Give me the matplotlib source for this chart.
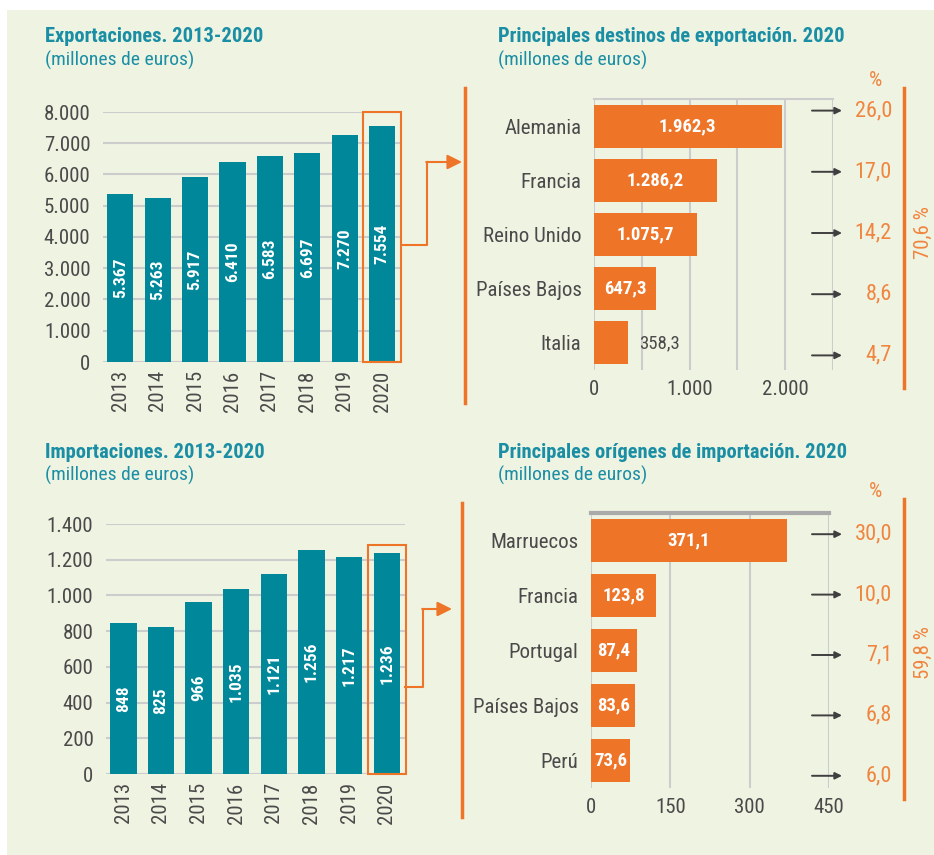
import matplotlib
matplotlib.use("Agg")
import matplotlib.pyplot as plt
from matplotlib import font_manager
from matplotlib.patches import Rectangle

# data
years = ["2013", "2014", "2015", "2016", "2017", "2018", "2019", "2020"]
exports = [5367, 5263, 5917, 6410, 6583, 6697, 7270, 7554]
imports = [848, 825, 966, 1035, 1121, 1256, 1217, 1236]

export_countries = ["Alemania", "Francia", "Reino Unido", "Países Bajos", "Italia"]
export_values = [1962.3, 1286.2, 1075.7, 647.3, 358.3]
export_shares = [26.0, 17.0, 14.2, 8.6, 4.7]
export_total = 70.6

import_countries = ["Marruecos", "Francia", "Portugal", "Países Bajos", "Perú"]
import_values = [371.1, 123.8, 87.4, 83.6, 73.6]
import_shares = [30.0, 10.0, 7.1, 6.8, 6.0]
import_total = 59.8

# colours
PANEL = "#eff3e2"
TEAL = "#00889a"
TITLE = "#1a8ea4"
ORANGE = "#ee7428"
ORANGE_TXT = "#f0853f"
GRID = "#cccccc"
DARK = "#4a4a4a"

# pick a narrow font if one is there
names = set(f.name for f in font_manager.fontManager.ttflist)
narrow = "DejaVu Sans"
for n in ["Liberation Sans Narrow", "Roboto Condensed", "Open Sans Condensed"]:
    if n in names:
        narrow = n
        break
plt.rcParams["font.family"] = [narrow, "DejaVu Sans"]

W, H = 934, 855


def box(l, t, r, b):
    return [l / W, 1 - b / H, (r - l) / W, (b - t) / H]


def es(v, dec=0):
    s = f"{v:,.{dec}f}"
    return s.replace(",", "X").replace(".", ",").replace("X", ".")


fig = plt.figure(figsize=(W / 100, H / 100), dpi=100)

# overlay axes in pixel units for panel, titles and connectors
ov = fig.add_axes([0, 0, 1, 1], zorder=-1)
ov.set_xlim(0, W)
ov.set_ylim(H, 0)
ov.axis("off")
ov.add_patch(Rectangle((7, 10), W - 7, H - 10, color=PANEL, lw=0))


def titles(x, y, text):
    ov.text(x, y, text, color=TITLE, fontsize=14.8, fontweight="bold", va="center")
    ov.text(x, y + 23, "(millones de euros)", color=TITLE, fontsize=14, va="center")


titles(45, 37, "Exportaciones. 2013-2020")
titles(498, 37, "Principales destinos de exportación. 2020")
titles(45, 452, "Importaciones. 2013-2020")
titles(498, 452, "Principales orígenes de importación. 2020")


def year_chart(rect, values, ymax, step, box_top):
    ax = fig.add_axes(rect)
    ax.set_facecolor("none")
    x = range(len(values))
    ax.bar(x, values, width=0.7, color=TEAL, zorder=2)
    for i, v in enumerate(values):
        ax.text(i, v / 2, es(v), rotation=90, ha="center", va="center",
                color="white", fontweight="bold", fontsize=12.5, zorder=3)
    ax.set_xlim(-0.46, len(values) - 0.52)
    ax.set_ylim(0, ymax)
    ticks = list(range(0, ymax + 1, step))
    ax.set_yticks(ticks)
    ax.set_yticklabels([es(t) for t in ticks])
    ax.set_xticks(list(x))
    ax.set_xticklabels(years, rotation=90)
    ax.tick_params(length=0, labelsize=15, labelcolor=DARK)
    ax.tick_params(axis="y", pad=9)
    ax.tick_params(axis="x", pad=6)
    ax.grid(axis="y", color=GRID, lw=1.5, zorder=0)
    for s in ax.spines.values():
        s.set_visible(False)
    last = len(values) - 1
    ax.add_patch(Rectangle((last - 0.51, 0), 1.02, box_top, fill=False,
                           ec=ORANGE, lw=1.5, zorder=4, clip_on=False))
    return ax


def country_chart(rect, countries, values, xmax, step, labels, top_dark):
    ax = fig.add_axes(rect)
    ax.set_facecolor("none")
    y = range(len(values))
    ax.barh(y, values, height=0.79, color=ORANGE, zorder=2)
    ax.set_xlim(0, xmax)
    ax.set_ylim(len(values) - 0.5, -0.5)
    ticks = list(range(0, xmax + 1, step))
    ax.set_xticks(ticks)
    ax.set_xticklabels([es(t) if es(t) in labels else "" for t in ticks])
    ax.set_yticks(list(y))
    ax.set_yticklabels(countries)
    ax.tick_params(length=0, labelsize=15, labelcolor=DARK)
    ax.tick_params(axis="y", pad=9)
    ax.tick_params(axis="x", pad=7)
    ax.grid(axis="x", color=GRID, lw=1.5, zorder=0)
    for s in ax.spines.values():
        s.set_visible(False)
    ax.spines["top"].set_visible(True)
    if top_dark:
        ax.spines["top"].set_color("#aaaaaa")
        ax.spines["top"].set_linewidth(3)
    else:
        ax.spines["top"].set_color(GRID)
        ax.spines["top"].set_linewidth(1.5)
    px_per_unit = rect[2] * W / xmax
    for i, v in enumerate(values):
        lab = es(v, 1)
        if v * px_per_unit > len(lab) * 7.5:
            ax.text(v / 2, i, lab, ha="center", va="center", color="white",
                    fontweight="bold", fontsize=13.5, zorder=3)
        else:
            ax.annotate(lab, (v, i), xytext=(8, 0), textcoords="offset points",
                        ha="left", va="center", color=DARK, fontsize=13.5)
    return ax


def share_column(rect, shares, total, total_y, line_top, line_bot):
    ax = fig.add_axes(rect)
    ax.set_facecolor("none")
    ax.set_xlim(0, 1)
    ax.set_ylim(len(shares) - 0.5, -0.5)
    ax.axis("off")
    for i, s in enumerate(shares):
        ax.annotate("", xy=(0.42, i), xytext=(0.12, i),
                    xycoords=("axes fraction", "data"),
                    arrowprops=dict(arrowstyle="-|>", color="#3f3f3f", lw=1.4,
                                    mutation_scale=10, shrinkA=0, shrinkB=0))
        ax.text(0.92, i, es(s, 1), ha="right", va="center", color=ORANGE_TXT,
                fontsize=16)
    ov.text(876, line_top - 8, "%", ha="center", va="center", color=ORANGE_TXT,
            fontsize=15)
    ov.plot([904, 904], [line_top, line_bot], color=ORANGE, lw=2.5)
    ov.text(923, total_y, es(total, 1) + " %", rotation=90, ha="center",
            va="center", color=ORANGE_TXT, fontsize=15)


year_chart(box(103, 112, 400, 362), exports, 8000, 1000, 8000)
year_chart(box(106, 524, 405, 774), imports, 1400, 200, 1285)

country_chart(box(594, 99, 833, 370), export_countries, export_values, 2500, 500,
              ["0", "1.000", "2.000"], False)
country_chart(box(591, 513, 829, 788), import_countries, import_values, 450, 150,
              ["0", "150", "300", "450"], True)

share_column(box(800, 80, 900, 386), export_shares, export_total, 233, 88, 388)
share_column(box(800, 504, 900, 806), import_shares, import_total, 653, 499, 799)


# connectors from the 2020 bar to the country charts
def connector(x0, y0, xm, y1, x1, xline, ltop, lbot):
    ov.plot([x0, xm, xm], [y0, y0, y1], color=ORANGE, lw=1.5)
    ov.annotate("", xy=(x1, y1), xytext=(xm - 0.8, y1),
                arrowprops=dict(arrowstyle="-|>", color=ORANGE, lw=1.5,
                                mutation_scale=22, shrinkA=0, shrinkB=0))
    ov.plot([xline, xline], [ltop, lbot], color=ORANGE, lw=2.5)


connector(402, 245, 427, 162, 462, 465, 88, 403)
connector(405, 687, 423, 609, 452, 462, 503, 817)

fig.savefig("out.png", dpi=100)
